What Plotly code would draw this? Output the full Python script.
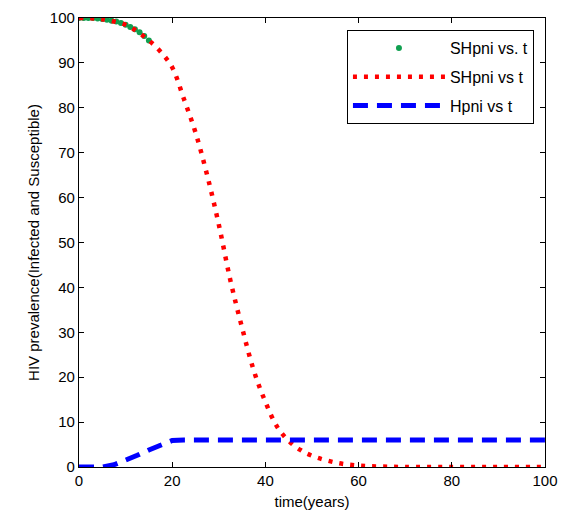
import plotly.graph_objects as go

# time grids (years)
t_curve = [0, 5, 10, 12.5, 15, 17.5, 20, 22.5, 25, 27.5, 30, 32.5, 35, 37.5,
           40, 42.5, 45, 47.5, 50, 55, 60, 65, 70, 80, 90, 100]
# SHpni: susceptible + infected prevalence
sh_values = [100, 99.7, 98.5, 97, 95, 92.5, 89, 82, 74.5, 65, 54, 41.5, 31, 21.5,
             14.5, 9, 5.8, 3.8, 2.5, 1, 0.3, 0.1, 0, 0, 0, 0]

t_blue = [0, 5, 7.5, 10, 12.5, 15, 17.5, 20, 22.5, 30, 40, 50, 60, 70, 80, 90, 100]
h_values = [0, 0, 0.5, 1.5, 2.6, 3.8, 5, 5.9, 6, 6, 6, 6, 6, 6, 6, 6, 6]

t_green = list(range(0, 16))
sh_points = [100, 100, 100, 100, 99.9, 99.8, 99.6, 99.4, 99.2, 98.9, 98.5,
             98, 97.5, 96.8, 96, 95]

x_ticks = [0, 20, 40, 60, 80, 100]
y_ticks = list(range(0, 101, 10))

fig = go.Figure()
fig.add_trace(go.Scatter(
    x=t_green, y=sh_points, mode="markers", name="SHpni vs. t", legendgroup="g1",
    marker=dict(color="#10a050", size=6, symbol="circle"),
))
fig.add_trace(go.Scatter(
    x=t_curve, y=sh_values, mode="lines", name="SHpni vs t", legendgroup="g2",
    line=dict(color="#ff0000", width=4.5, dash="4px,7px", shape="spline"),
))
fig.add_trace(go.Scatter(
    x=t_blue, y=h_values, mode="lines", name="Hpni vs t", legendgroup="g3",
    line=dict(color="#0000ff", width=5, dash="15px,9px"),
))

axis_common = dict(
    showline=True, linecolor="black", linewidth=1.3, mirror="ticks",
    ticks="inside", ticklen=5, tickcolor="black", showgrid=False,
    zeroline=False, ticklabeloverflow="allow", automargin=False,
    tickfont=dict(family="Liberation Sans, Arial", size=15, color="black"),
)

fig.update_layout(
    width=561, height=526,
    margin=dict(l=79, r=16, t=18, b=59),
    paper_bgcolor="white", plot_bgcolor="white",
    font=dict(family="Liberation Sans, Arial", size=14, color="black"),
    xaxis=dict(range=[0, 100], tickvals=x_ticks,
               title=dict(text="time(years)", standoff=8,
                          font=dict(size=15)), **axis_common),
    yaxis=dict(range=[0, 100], tickvals=y_ticks,
               title=dict(text="HIV prevalence(Infected and Susceptible)", standoff=6,
                          font=dict(size=15)), **axis_common),
    legend=dict(x=0.575, y=0.973, xanchor="left", yanchor="top",
                bgcolor="white", bordercolor="black", borderwidth=1,
                font=dict(size=16), itemwidth=92, tracegroupgap=5),
    showlegend=True,
)

fig.write_html("out.html")
